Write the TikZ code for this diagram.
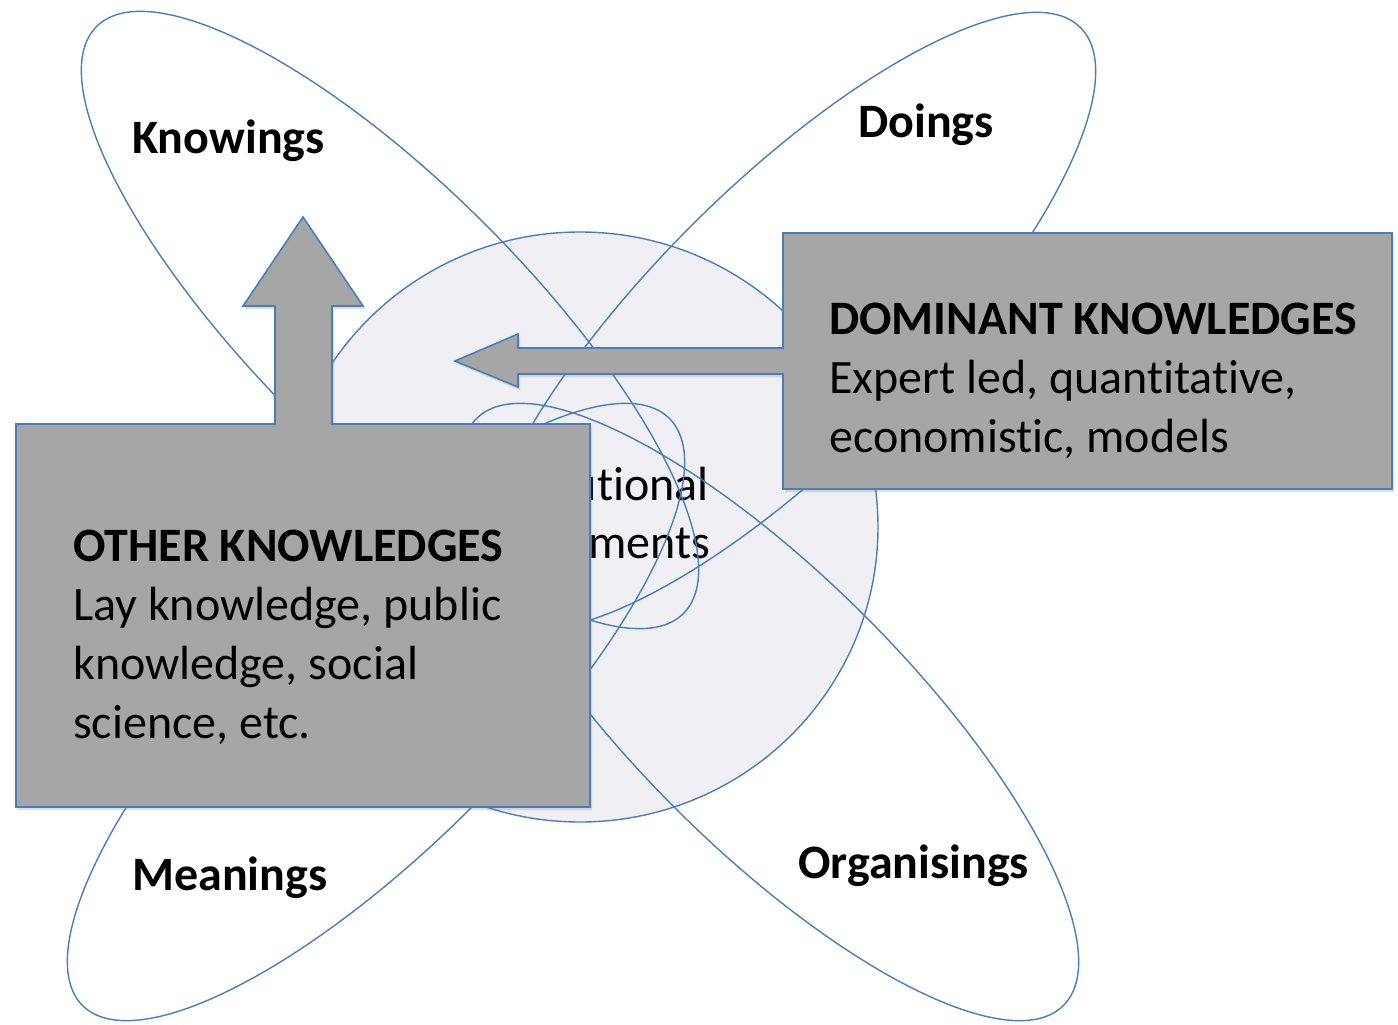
\documentclass[tikz,border=0pt]{standalone}
\usepackage{fontspec}
\setmainfont{Carlito}[Ligatures=NoCommon]
\usetikzlibrary{shadows}
\definecolor{edgeblue}{RGB}{74,126,187}
\definecolor{boxgrey}{RGB}{166,166,166}
\definecolor{circgrey}{RGB}{240,239,243}
\begin{document}
\begin{tikzpicture}[x=1pt,y=-1pt,
  petal/.style={draw=edgeblue,line width=1.4pt},
  hub/.style={draw=edgeblue,line width=1.4pt,fill=circgrey},
  greybox/.style={draw=edgeblue,line width=1.6pt,fill=boxgrey,
    drop shadow={shadow xshift=2pt,shadow yshift=-3pt,opacity=0.25}},
  lab/.style={font=\fontsize{48}{58}\selectfont\bfseries,inner sep=0pt,anchor=base west},
  txt/.style={font=\fontsize{48}{58}\selectfont,inner sep=0pt,anchor=base west},
  hd/.style={font=\fontsize{48}{58}\selectfont\bfseries,inner sep=0pt,anchor=base west}]
\useasboundingbox (0,0) rectangle (1398,1025);
% central circle
\draw[hub] (580,527) ellipse [x radius=298, y radius=295];
\node[txt,anchor=base east] (inst1) at (709,500) {Institutional};
\node[txt,anchor=base east] (inst2) at (710,558) {arrangements};
% petals
\draw[petal, rotate around={-45:(390,320)}] (390,320) ellipse [x radius=415, y radius=135];
\draw[petal, rotate around={45:(787,321)}] (787,321) ellipse [x radius=415, y radius=135];
\draw[petal, rotate around={45:(376,712)}] (376,712) ellipse [x radius=415, y radius=135];
\draw[petal, rotate around={-45:(770,712)}] (770,712) ellipse [x radius=415, y radius=135];
% petal labels
\node[lab] (know) at (132,153) {Knowings};
\node[lab] (doing) at (858,137) {Doings};
\node[lab] (mean) at (132,890) {Meanings};
\node[lab] (org) at (798,878) {Organisings};
% other knowledges box with up arrow
\draw[greybox] (16,424) -- (275,424) -- (275,306) -- (243,306) -- (303,217) -- (363,306)
  -- (332,306) -- (332,424) -- (590,424) -- (590,807) -- (16,807) -- cycle;
% dominant knowledges box with left arrow
\draw[greybox] (783,233) -- (1392,233) -- (1392,489) -- (783,489) -- (783,374) -- (518,374)
  -- (518,387) -- (455,361) -- (518,334) -- (518,348) -- (783,348) -- cycle;
% box texts
\node[hd] (ok1) at (73,561) {OTHER KNOWLEDGES};
\node[txt] (ok2) at (73,620) {Lay knowledge, public};
\node[txt] (ok3) at (73,679) {knowledge, social};
\node[txt] (ok4) at (73,738) {science, etc.};
\node[hd] (dk1) at (829,334) {DOMINANT KNOWLEDGES};
\node[txt] (dk2) at (829,393) {Expert led, quantitative,};
\node[txt] (dk3) at (829,452) {economistic, models};
\end{tikzpicture}
\end{document}
